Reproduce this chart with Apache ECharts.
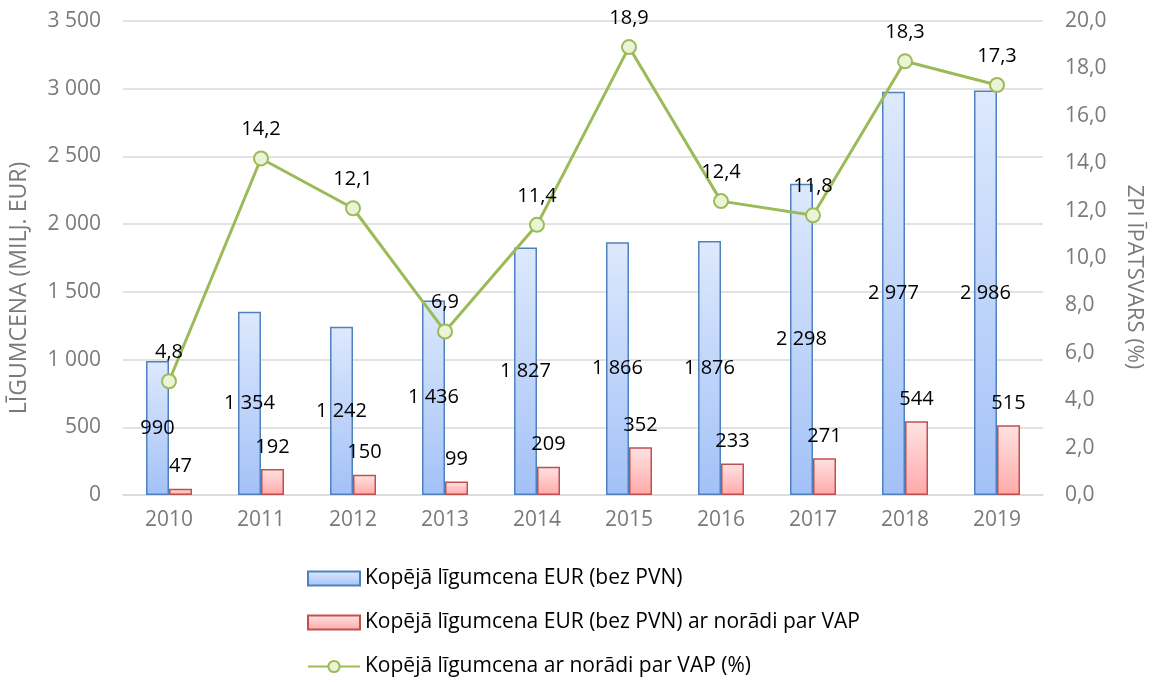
<!DOCTYPE html>
<html>
<head>
<meta charset="utf-8">
<script src="https://cdn.jsdelivr.net/npm/echarts@6/dist/echarts.min.js"></script>
<style>
  html, body { margin: 0; padding: 0; background: #fff; }
  #chart { width: 1153px; height: 682px; }
</style>
</head>
<body>
<div id="chart"></div>
<script>
  // dati
  var years = ['2010', '2011', '2012', '2013', '2014', '2015', '2016', '2017', '2018', '2019'];
  var totalEur = [990, 1354, 1242, 1436, 1827, 1866, 1876, 2298, 2977, 2986];
  var vapEur = [47, 192, 150, 99, 209, 352, 233, 271, 544, 515];
  var vapShare = [4.8, 14.2, 12.1, 6.9, 11.4, 18.9, 12.4, 11.8, 18.3, 17.3];

  var seriesNames = [
    'Kopējā līgumcena EUR (bez PVN)',
    'Kopējā līgumcena EUR (bez PVN) ar norādi par VAP',
    'Kopējā līgumcena ar norādi par VAP (%)'
  ];

  var fontName = 'Open Sans';

  function thousands(v) {
    return String(v).replace(/\B(?=(\d{3})+(?!\d))/g, ' ');
  }
  function decimal(v) {
    return v.toFixed(1).replace('.', ',');
  }

  function grad(top, bottom) {
    return new echarts.graphic.LinearGradient(0, 0, 0, 1, [
      { offset: 0, color: top },
      { offset: 1, color: bottom }
    ]);
  }

  var myChart = echarts.init(document.getElementById('chart'));

  var option = {
    animation: false,
    textStyle: { fontFamily: fontName },
    grid: { left: 120, right: 106, top: 21, bottom: 187 },
    legend: {
      orient: 'vertical',
      left: 302,
      top: 563,
      itemGap: 23,
      itemWidth: 52,
      itemHeight: 14,
      textStyle: { fontSize: 21, color: '#000', fontFamily: fontName },
      data: [
        { name: seriesNames[0], icon: 'rect' },
        { name: seriesNames[1], icon: 'rect' },
        { name: seriesNames[2] }
      ]
    },
    xAxis: {
      type: 'category',
      data: years,
      axisLine: { lineStyle: { color: '#d9d9d9', width: 1.5 } },
      axisTick: { show: false },
      axisLabel: { color: '#7a7a7a', fontSize: 21, margin: 15 }
    },
    yAxis: [{
      type: 'value',
      min: 0,
      max: 3500,
      interval: 500,
      name: 'LĪGUMCENA (MILJ. EUR)',
      nameLocation: 'middle',
      nameGap: 92,
      nameTextStyle: { color: '#7a7a7a', fontSize: 23, padding: [0, 60, 0, 0] },
      axisLine: { show: false },
      axisTick: { show: false },
      axisLabel: { color: '#7a7a7a', fontSize: 21, margin: 22, formatter: thousands },
      splitLine: { lineStyle: { color: '#d9d9d9', width: 1.5 } }
    }, {
      type: 'value',
      min: 0,
      max: 20,
      interval: 2,
      name: 'ZPI ĪPATSVARS (%)',
      nameLocation: 'middle',
      nameGap: 80,
      nameRotate: -90,
      nameTextStyle: { color: '#7a7a7a', fontSize: 22, padding: [0, 0, 0, 38] },
      axisLine: { show: false },
      axisTick: { show: false },
      axisLabel: { color: '#7a7a7a', fontSize: 21, margin: 22, formatter: decimal },
      splitLine: { show: false }
    }],
    series: [{
      name: seriesNames[0],
      type: 'bar',
      data: totalEur,
      barWidth: 23,
      barGap: '0%',
      itemStyle: {
        color: grad('#dde9fd', '#a3c1f8'),
        borderColor: '#4f81bd',
        borderWidth: 1.5
      },
      label: {
        show: true,
        position: 'inside',
        color: '#000',
        fontSize: 20,
        formatter: function (p) { return thousands(p.value); }
      }
    }, {
      name: seriesNames[1],
      type: 'bar',
      data: vapEur,
      barWidth: 23,
      barGap: '0%',
      itemStyle: {
        color: grad('#ffe3e3', '#ffa9a9'),
        borderColor: '#c0504d',
        borderWidth: 1.5
      },
      label: {
        show: true,
        position: 'top',
        distance: 12,
        color: '#000',
        fontSize: 20,
        formatter: function (p) { return thousands(p.value); }
      }
    }, {
      name: seriesNames[2],
      type: 'line',
      yAxisIndex: 1,
      data: vapShare,
      symbol: 'circle',
      symbolSize: 14,
      lineStyle: { color: '#9bbb59', width: 3 },
      itemStyle: { color: '#ebf5d6', borderColor: '#9bbb59', borderWidth: 2 },
      label: {
        show: true,
        position: 'top',
        distance: 11,
        color: '#000',
        fontSize: 20,
        formatter: function (p) { return decimal(p.value); }
      },
      z: 5
    }]
  };

  myChart.setOption(option);
</script>
</body>
</html>
